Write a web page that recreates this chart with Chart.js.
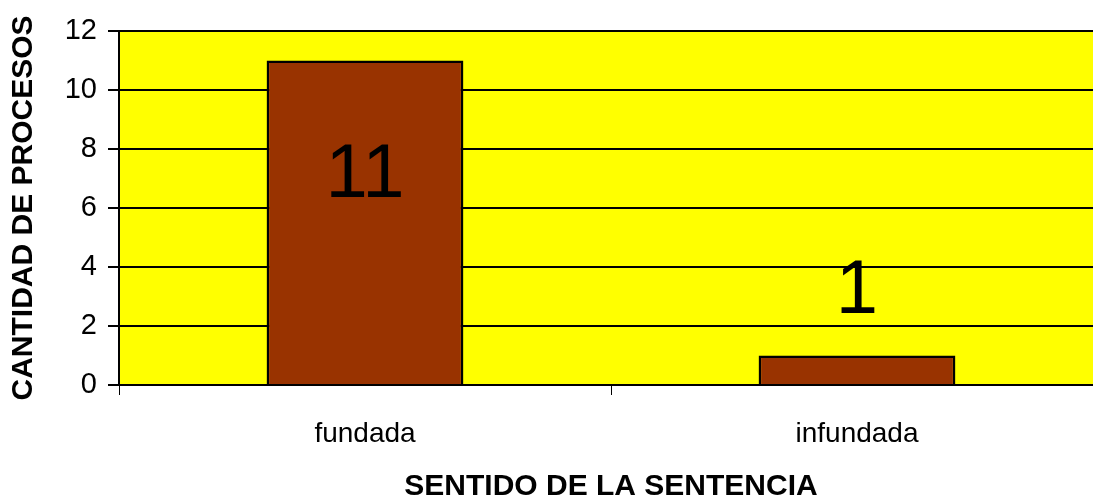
<!DOCTYPE html>
<html><head><meta charset="utf-8">
<script src="https://cdn.jsdelivr.net/npm/chart.js@4"></script>
<style>html,body{margin:0;padding:0;overflow:hidden;background:#fff;width:1093px;height:502px}
#wrap{position:absolute;left:0;top:0;width:1103px;height:502px}</style>
</head><body><div id="wrap"><canvas id="c"></canvas></div>
<script>
const categories = ['fundada', 'infundada'];
const procesos = [11, 1];
const yTicks = [0, 2, 4, 6, 8, 10, 12];
const FONT = "Arial, 'Liberation Sans', sans-serif";

const bgPlugin = {
  id: 'bg',
  beforeDraw(chart) {
    const {ctx, chartArea: a} = chart;
    ctx.save();
    ctx.fillStyle = '#ffff00';
    ctx.fillRect(a.left, a.top, a.right - a.left, a.bottom - a.top);
    ctx.restore();
  }
};
const labelPlugin = {
  id: 'vals',
  afterDatasetsDraw(chart) {
    const {ctx} = chart;
    const meta = chart.getDatasetMeta(0);
    const ys = chart.scales.y;
    ctx.save();
    ctx.font = '76px ' + FONT;
    ctx.fillStyle = '#000';
    ctx.textAlign = 'center';
    ctx.textBaseline = 'middle';
    meta.data.forEach((bar, i) => {
      const v = procesos[i];
      const top = ys.getPixelForValue(v);
      const y = (i === 0) ? top + 116 : top - 63;
      ctx.fillText(String(v), bar.x, y);
    });
    ctx.restore();
  }
};

new Chart(document.getElementById('c'), {
  type: 'bar',
  data: {
    labels: categories,
    datasets: [{
      data: procesos,
      backgroundColor: '#993300',
      borderColor: '#000',
      borderWidth: 2.5,
      categoryPercentage: 1,
      barPercentage: 0.4
    }]
  },
  options: {
    responsive: true,
    maintainAspectRatio: false,
    animation: false,
    layout: {padding: {top: 31, right: 0, left: 0, bottom: 0}},
    plugins: {legend: {display: false}, tooltip: {enabled: false}},
    scales: {
      x: {
        grid: {display: true, drawOnChartArea: false, color: '#000', lineWidth: 1, tickLength: 10, offset: true},
        border: {display: true, color: '#000', width: 2},
        ticks: {color: '#000', font: {family: FONT, size: 28}, padding: 22},
        title: {display: true, text: 'SENTIDO DE LA SENTENCIA', color: '#000', font: {family: FONT, size: 30, weight: 'bold', lineHeight: 1}, padding: {top: 20, bottom: 0}},
        afterFit(s) { s.height = 117; }
      },
      y: {
        min: 0, max: 12,
        afterBuildTicks(s) { s.ticks = yTicks.map(v => ({value: v})); },
        grid: {display: true, color: '#000', lineWidth: 2, tickLength: 11},
        border: {display: true, color: '#000', width: 2},
        ticks: {color: '#000', font: {family: FONT, size: 29}, padding: 11},
        title: {display: true, text: 'CANTIDAD DE PROCESOS', color: '#000', font: {family: FONT, size: 30, weight: 'bold'}, padding: {top: 6, bottom: 0}},
        afterFit(s) { s.width = 119; }
      }
    }
  },
  plugins: [bgPlugin, labelPlugin]
});
</script></body></html>
